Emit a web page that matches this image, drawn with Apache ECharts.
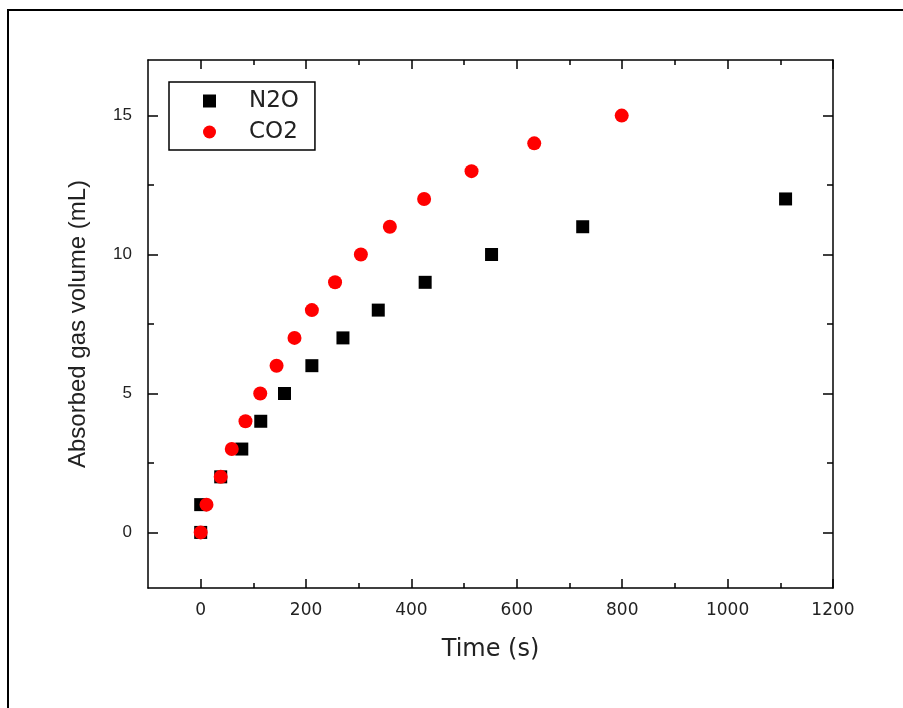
<!DOCTYPE html>
<html><head><meta charset="utf-8">
<script src="https://cdn.jsdelivr.net/npm/echarts@6/dist/echarts.min.js"></script>
<style>html,body{margin:0;padding:0;background:#fff}#c{width:903px;height:708px}</style>
</head><body><div id="c"></div>
<script>
const n2oTime = [0, 0, 38, 78, 114, 159, 211, 270, 337, 426, 552, 725, 1110];
const n2oVol  = [0, 1, 2, 3, 4, 5, 6, 7, 8, 9, 10, 11, 12];
const co2Time = [0, 11, 38, 59, 85, 113, 144, 178, 211, 255, 304, 359, 424, 514, 633, 799];
const co2Vol  = [0, 1, 2, 3, 4, 5, 6, 7, 8, 9, 10, 11, 12, 13, 14, 15];
const xMajor = [0, 200, 400, 600, 800, 1000, 1200];
const xMinor = [100, 300, 500, 700, 900, 1100];
const yMajor = [0, 5, 10, 15];
const yMinor = [2.5, 7.5, 12.5];
const xRange = [-100, 1200];
const yRange = [-2, 17];

const chart = echarts.init(document.getElementById('c'), null, {renderer: 'canvas'});
const lineStyle = {color: '#000', width: 1.5};
function xAx(pos, ticks, len, labels, showLine) {
  return {
    type: 'value', position: pos, min: xRange[0], max: xRange[1],
    axisLine: {show: showLine, onZero: false, lineStyle: lineStyle},
    axisTick: {show: true, inside: true, length: len, customValues: ticks, lineStyle: lineStyle},
    axisLabel: labels ? {show: true, customValues: ticks, margin: 14, color: '#222',
      fontFamily: 'DejaVu Sans', fontSize: 17, formatter: v => String(v)} : {show: false},
    splitLine: {show: false}
  };
}
function yAx(pos, ticks, len, labels, showLine) {
  return {
    type: 'value', position: pos, min: yRange[0], max: yRange[1],
    axisLine: {show: showLine, onZero: false, lineStyle: lineStyle},
    axisTick: {show: true, inside: true, length: len, customValues: ticks, lineStyle: lineStyle},
    axisLabel: labels ? {show: true, customValues: ticks, margin: 16, color: '#222',
      fontFamily: 'Liberation Sans', fontSize: 17, formatter: v => String(v)} : {show: false},
    splitLine: {show: false}
  };
}
const xMain = xAx('bottom', xMajor, 9, true, true);
xMain.name = 'Time (s)';
xMain.nameLocation = 'middle';
xMain.nameGap = 50;
xMain.nameTextStyle = {fontFamily: 'DejaVu Sans', fontSize: 24, color: '#222'};
const yMain = yAx('left', yMajor, 10, true, true);
yMain.name = 'Absorbed gas volume (mL)';
yMain.nameLocation = 'middle';
yMain.nameGap = 58;
yMain.nameTextStyle = {fontFamily: 'Liberation Sans', fontSize: 24, color: '#222'};

chart.setOption({
  animation: false,
  backgroundColor: '#fff',
  grid: {left: 148, top: 60, right: 70, bottom: 120, containLabel: false},
  graphic: [{type: 'rect', shape: {x: 8, y: 10, width: 1000, height: 800},
    style: {fill: 'none', stroke: '#000', lineWidth: 2}, silent: true}],
  legend: {
    left: 169, top: 82, orient: 'vertical',
    data: ['N2O', 'CO2'],
    borderColor: '#000', borderWidth: 1.5,
    padding: [7, 16, 6, 34],
    itemWidth: 13, itemHeight: 13, itemGap: 7,
    textStyle: {fontFamily: 'DejaVu Sans', fontSize: 23, color: '#222', lineHeight: 24,
      padding: [0, 0, 0, 28]}
  },
  xAxis: [
    xMain,
    xAx('bottom', xMinor, 5, false, false),
    xAx('top', xMajor, 9, false, true),
    xAx('top', xMinor, 5, false, false)
  ],
  yAxis: [
    yMain,
    yAx('left', yMinor, 6, false, false),
    yAx('right', yMajor, 10, false, true),
    yAx('right', yMinor, 6, false, false)
  ],
  series: [
    {name: 'N2O', type: 'scatter', symbol: 'rect', symbolSize: 13,
      itemStyle: {color: '#000', opacity: 1}, xAxisIndex: 0, yAxisIndex: 0,
      data: n2oTime.map((t, i) => [t, n2oVol[i]])},
    {name: 'CO2', type: 'scatter', symbol: 'circle', symbolSize: 14,
      itemStyle: {color: '#ff0000', opacity: 1}, xAxisIndex: 0, yAxisIndex: 0,
      data: co2Time.map((t, i) => [t, co2Vol[i]])}
  ]
});
</script></body></html>
